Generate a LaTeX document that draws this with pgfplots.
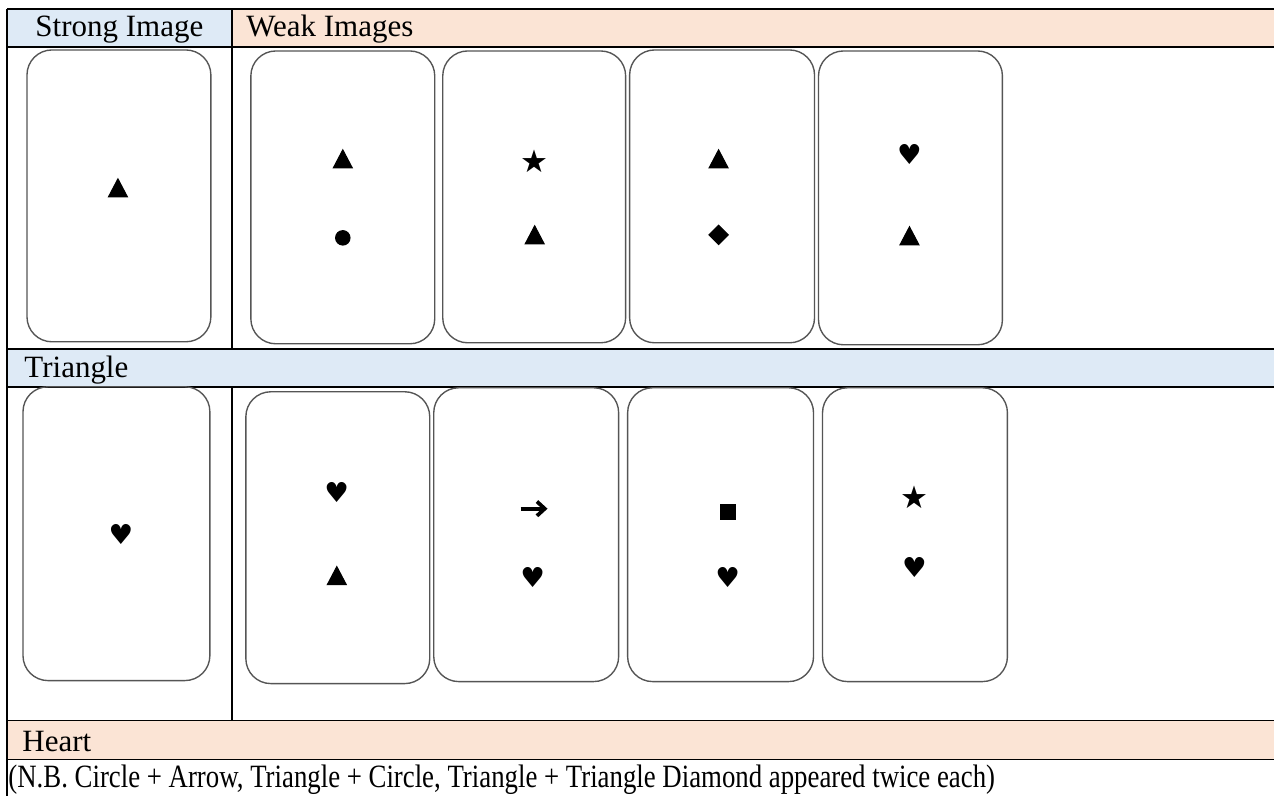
\documentclass[border=0pt]{standalone}
\usepackage{pgfplots}
\pgfplotsset{compat=1.18}
\usepackage{fontspec}
\setmainfont{Liberation Serif}
\newfontfamily\dejavu{DejaVu Sans}
\definecolor{hdrblue}{HTML}{DEEAF6}
\definecolor{hdrpeach}{HTML}{FBE4D5}
\definecolor{cardgray}{HTML}{555555}
\newcommand\fs{\fontsize{12.4pt}{14pt}\selectfont}
\newcommand\heartf{\dejavu\fontsize{11pt}{11pt}\selectfont}
\newcommand\starf{\dejavu\fontsize{12.5pt}{12pt}\selectfont}
\pgfdeclareplotmark{chevarrow}{%
  \pgfsetlinewidth{1.5pt}%
  \pgfsetmiterjoin
  \pgfpathmoveto{\pgfqpoint{-\pgfplotmarksize}{0pt}}%
  \pgfpathlineto{\pgfqpoint{0.85\pgfplotmarksize}{0pt}}%
  \pgfusepathqstroke
  \pgfpathmoveto{\pgfqpoint{0.25\pgfplotmarksize}{0.55\pgfplotmarksize}}%
  \pgfpathlineto{\pgfqpoint{0.85\pgfplotmarksize}{0pt}}%
  \pgfpathlineto{\pgfqpoint{0.25\pgfplotmarksize}{-0.55\pgfplotmarksize}}%
  \pgfusepathqstroke
}
\begin{document}
\begin{tikzpicture}
\begin{axis}[x=0.4pt, y=0.4pt, y dir=reverse,
  xmin=0, xmax=1275, ymin=0, ymax=796,
  hide axis, clip=false, scale only axis]
% background and row fills
\fill[white] (axis cs:0,0) rectangle (axis cs:1275,796);
\fill[hdrblue]  (axis cs:7,9)   rectangle (axis cs:232,47);
\fill[hdrpeach] (axis cs:232,9) rectangle (axis cs:1275,47);
\fill[hdrblue]  (axis cs:7,349) rectangle (axis cs:1275,387);
\fill[hdrpeach] (axis cs:7,721) rectangle (axis cs:1275,760);
% table rules
\draw[black, line width=0.6pt] (axis cs:7,9) -- (axis cs:1275,9);
\draw[black, line width=0.6pt] (axis cs:7,47) -- (axis cs:1275,47);
\draw[black, line width=0.6pt] (axis cs:7,349) -- (axis cs:1275,349);
\draw[black, line width=0.6pt] (axis cs:7,387) -- (axis cs:1275,387);
\draw[black, line width=0.6pt] (axis cs:7,721) -- (axis cs:1275,721);
\draw[black, line width=0.6pt] (axis cs:7,760) -- (axis cs:1275,760);
\draw[black, line width=0.6pt] (axis cs:7,9) -- (axis cs:7,796);
\draw[black, line width=0.6pt] (axis cs:232,9) -- (axis cs:232,349);
\draw[black, line width=0.6pt] (axis cs:232,387) -- (axis cs:232,721);
% cards
\begin{scope}[cardgray, line width=0.55pt, rounded corners=10pt]
\draw (axis cs:27,50) rectangle (axis cs:211,342);
\draw (axis cs:251,51) rectangle (axis cs:435,344);
\draw (axis cs:443,51) rectangle (axis cs:626,343);
\draw (axis cs:630,50) rectangle (axis cs:815,343);
\draw (axis cs:819,51) rectangle (axis cs:1003,345);
\draw (axis cs:23,387) rectangle (axis cs:210,681);
\draw (axis cs:246,392) rectangle (axis cs:430,684);
\draw (axis cs:434,388) rectangle (axis cs:619,682);
\draw (axis cs:628,388) rectangle (axis cs:814,682);
\draw (axis cs:823,388) rectangle (axis cs:1008,682);
\end{scope}
% symbols
\addplot[only marks, mark=triangle*, mark size=4.4pt, mark options={black, yscale=1.1}]
  coordinates {(118,191) (343,162) (535,238) (719,162) (910,239) (337,579)};
\addplot[only marks, mark=*, mark size=2.9pt, mark options={black}]
  coordinates {(343,238)};
\addplot[only marks, mark=square*, mark size=2.75pt, mark options={black, rotate=45}]
  coordinates {(719,235)};
\addplot[only marks, mark=square*, mark size=3pt, mark options={black}]
  coordinates {(728,512)};
\addplot[only marks, mark=text, text mark={\heartf ♥}]
  coordinates {(910,155) (121,535) (337,493) (533,578) (728,578) (915,568)};
\addplot[only marks, mark=text, text mark={\starf ★}]
  coordinates {(535,161) (915,498)};
\addplot[only marks, mark=chevarrow, mark size=5.2pt, mark options={black}]
  coordinates {(534,509)};
% texts
\node[anchor=base west, inner sep=0pt, font=\fs] at (axis cs:35,37) {Strong Image};
\node[anchor=base west, inner sep=0pt, font=\fs] at (axis cs:246,37) {Weak Images};
\node[anchor=base west, inner sep=0pt, font=\fs] at (axis cs:24,378) {Triangle};
\node[anchor=base west, inner sep=0pt, font=\fs] at (axis cs:22,752) {Heart};
\node[anchor=base west, inner sep=0pt, font=\fs, xscale=0.865, yscale=1.05] at (axis cs:8,788) {(N.B. Circle + Arrow, Triangle + Circle, Triangle + Triangle Diamond appeared twice each)};
\end{axis}
\end{tikzpicture}
\end{document}
